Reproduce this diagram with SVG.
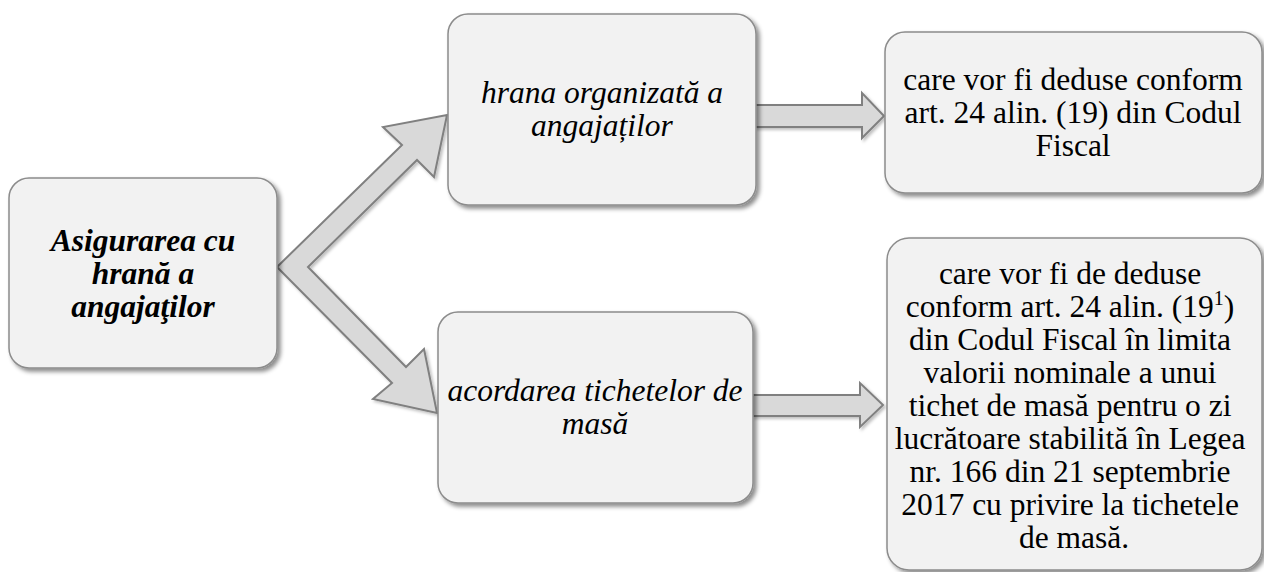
<svg xmlns="http://www.w3.org/2000/svg" width="1264" height="572" viewBox="0 0 1264 572">
<defs>
<filter id="sh" x="-10%" y="-10%" width="125%" height="125%">
<feDropShadow dx="3" dy="3" stdDeviation="2" flood-color="#000" flood-opacity="0.45"/>
</filter>
<filter id="ash" x="-10%" y="-10%" width="125%" height="125%">
<feDropShadow dx="2" dy="2" stdDeviation="1.5" flood-color="#000" flood-opacity="0.25"/>
</filter>
</defs>
<style>
.box{fill:#f2f2f2;stroke:#8c8c8c;stroke-width:1.5;filter:url(#sh)}
.arr{fill:#d9d9d9;stroke:#808080;stroke-width:2;stroke-linejoin:miter;filter:url(#ash)}
text{font-family:'Liberation Serif','Times New Roman',serif;font-size:31.5px;fill:#000;text-anchor:middle}
.i{font-style:italic}
.b{font-weight:bold}
</style>
<rect width="1264" height="572" fill="#fff"/>
<g id="connectors">
<polygon class="arr" points="277,267 402,145 383,127 447,115 434,177 417,160 308,267 406,367 424,349 437,413 373,399 392,383"/>
<polygon class="arr" points="755,105 862,105 862,93 884,116 862,138 862,127 755,127"/>
<polygon class="arr" points="753,395 860,395 860,383 883,405 860,427 860,416 753,416"/>
</g>
<g id="n1">
<rect class="box" x="9" y="178" width="268" height="190" rx="20"/>
<text class="i b"><tspan x="143" y="251">Asigurarea cu</tspan><tspan x="143" y="284">hrană a</tspan><tspan x="143" y="317">angajaţilor</tspan></text>
</g>
<g id="n2">
<rect class="box" x="448" y="14" width="308" height="191" rx="20"/>
<text class="i"><tspan x="602" y="103">hrana organizată a</tspan><tspan x="602" y="136">angajaților</tspan></text>
</g>
<g id="n3">
<rect class="box" x="885" y="32" width="377" height="161" rx="20"/>
<text><tspan x="1073" y="90">care vor fi deduse conform</tspan><tspan x="1073" y="123">art. 24 alin. (19) din Codul</tspan><tspan x="1073" y="156">Fiscal</tspan></text>
</g>
<g id="n4">
<rect class="box" x="438" y="312" width="315" height="191" rx="20"/>
<text class="i"><tspan x="595" y="401">acordarea tichetelor de</tspan><tspan x="595" y="434">masă</tspan></text>
</g>
<g id="n5">
<rect class="box" x="887" y="238" width="375" height="332" rx="22"/>
<text>
<tspan x="1074" y="284">care vor fi de deduse</tspan>
<tspan x="1074" y="317">conform art. 24 alin. (19<tspan font-size="20" dy="-12">1</tspan><tspan dy="12">)</tspan></tspan>
<tspan x="1074" y="350">din Codul Fiscal în limita</tspan>
<tspan x="1074" y="383">valorii nominale a unui</tspan>
<tspan x="1074" y="416">tichet de masă pentru o zi</tspan>
<tspan x="1074" y="449">lucrătoare stabilită în Legea</tspan>
<tspan x="1074" y="482">nr. 166 din 21 septembrie</tspan>
<tspan x="1074" y="515">2017 cu privire la tichetele</tspan>
<tspan x="1074" y="548">de masă.</tspan>
</text>
</g>
</svg>
